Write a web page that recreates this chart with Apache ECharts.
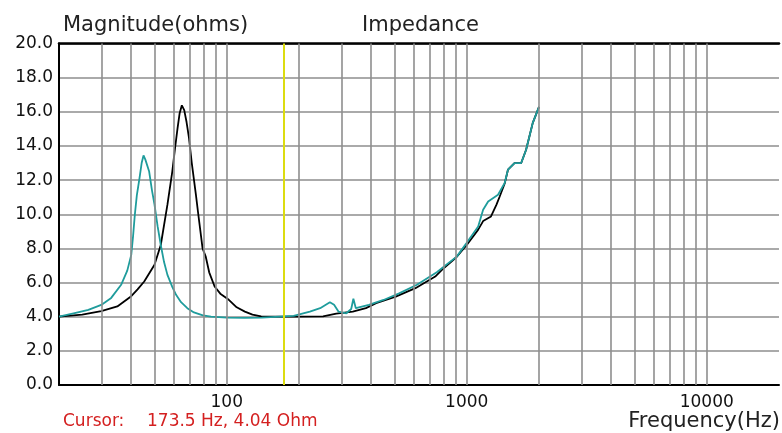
<!DOCTYPE html>
<html><head><meta charset="utf-8">
<script src="https://cdn.jsdelivr.net/npm/echarts@6/dist/echarts.min.js"></script>
<style>html,body{margin:0;padding:0;background:#fff}#c{width:782px;height:433px}</style>
</head><body><div id="c"></div>
<script>
// ---- data ----
const blackFreq = [20,25,30,35,40,42.5,45.3,50,53.1,56.6,59.3,60.8,62.4,63.6,65,66.5,68,69.6,71.5,74.4,76.1,79.3,81.8,84.5,89,94,102,110,119,128,139,160,200,252,286,335,380,419,506,611,739,788,900,1000,1116,1170,1262,1330,1372,1439,1485,1581,1686,1767,1825,1884,2000];
const blackMag  = [4.0,4.12,4.32,4.6,5.2,5.6,6.06,7.04,8.2,10.56,12.5,13.8,15.06,15.9,16.38,16.1,15.4,14.47,13.0,11.14,10.0,8.0,7.5,6.6,5.77,5.35,4.99,4.55,4.3,4.12,4.02,4.0,4.0,4.02,4.18,4.3,4.5,4.79,5.18,5.67,6.35,6.74,7.45,8.2,9.1,9.6,9.87,10.56,11.04,11.8,12.61,13.0,13.0,13.78,14.57,15.35,16.29];
const cyanFreq  = [20,23,26.5,30,33,36.3,38.5,40,40.7,41.4,42.2,43.3,44.2,45,45.8,47.5,48.8,50,51.5,53.1,54.8,56.6,59.3,61.5,64.5,68.5,73,79.5,86,100,119,121,140,173.5,190,222,245,269,280,292,315,330,337,345,391,450,520,620,750,908,998,1116,1170,1228,1350,1439,1485,1581,1686,1767,1825,1884,2000];
const cyanMag   = [4.0,4.2,4.4,4.69,5.1,5.87,6.7,7.62,8.7,9.97,11.1,12.12,13.0,13.45,13.2,12.5,11.4,10.56,9.3,8.2,7.2,6.45,5.75,5.28,4.85,4.5,4.25,4.08,4.0,3.95,3.93,3.87,3.95,4.02,4.05,4.3,4.5,4.85,4.7,4.3,4.2,4.45,5.05,4.5,4.69,4.98,5.35,5.87,6.6,7.52,8.31,9.28,10.26,10.75,11.14,11.83,12.61,13.0,13.0,13.78,14.57,15.35,16.29];
const gridFreqs = [30,40,50,60,70,80,90,100,200,300,400,500,600,700,800,900,1000,2000,3000,4000,5000,6000,7000,8000,9000,10000];
const xTickLabels = ['100','1000','10000'];
const yTickLabels = ['0.0','2.0','4.0','6.0','8.0','10.0','12.0','14.0','16.0','18.0','20.0'];
const cursorFreq = 173.5;
const cursorText = '173.5 Hz, 4.04 Ohm';

const FONT = 'DejaVu Sans';
const gridStyle = {color:'#8e8e8e', width:1.6, type:'solid'};
const zip = (a,b) => a.map((v,i)=>[v,b[i]]);

const chart = echarts.init(document.getElementById('c'), null, {renderer:'canvas'});
chart.setOption({
  animation:false,
  backgroundColor:'#fff',
  grid:{left:59, top:43.5, width:726, height:341.5},
  xAxis:[{
    type:'log', logBase:10, min:20, max:20000,
    axisLine:{show:true, lineStyle:{color:'#000', width:2}},
    axisTick:{show:false}, splitLine:{show:false},
    axisLabel:{color:'#111', fontFamily:FONT, fontSize:17, margin:9,
      formatter:v=>{const s=String(Math.round(v)); return xTickLabels.includes(s)?s:'';}}
  },{
    type:'log', logBase:10, min:20, max:20000, position:'top',
    axisLine:{show:true, lineStyle:{color:'#000', width:2.5}},
    axisTick:{show:false}, axisLabel:{show:false}, splitLine:{show:false}
  }],
  yAxis:{
    type:'value', min:0, max:20, interval:2,
    axisLine:{show:true, lineStyle:{color:'#000', width:2}},
    axisTick:{show:false},
    splitLine:{show:true, lineStyle:gridStyle},
    axisLabel:{color:'#111', fontFamily:FONT, fontSize:17, margin:6,
      formatter:(v)=>yTickLabels[Math.round(v/2)]}
  },
  series:[
    {type:'line', data:[], z:1, silent:true,
     markLine:{silent:true, symbol:'none', label:{show:false}, animation:false,
       lineStyle:gridStyle,
       data: gridFreqs.map(f=>({xAxis:f})).concat([{xAxis:cursorFreq, lineStyle:{color:'#dcdc10', width:2, type:'solid'}}])}},
    {type:'line', data:zip(blackFreq, blackMag), z:3, showSymbol:false, symbol:'none',
     lineStyle:{color:'#000', width:1.8}},
    {type:'line', data:zip(cyanFreq, cyanMag), z:4, showSymbol:false, symbol:'none',
     lineStyle:{color:'#1f9c9c', width:1.8}}
  ],
  graphic:[
    {type:'text', x:63, y:25.5, style:{text:'Magnitude(ohms)', fontFamily:FONT, fontSize:21, fill:'#222', verticalAlign:'middle'}},
    {type:'text', x:362, y:25.5, style:{text:'Impedance', fontFamily:FONT, fontSize:21, fill:'#222', verticalAlign:'middle'}},
    {type:'text', x:780, y:421.5, style:{text:'Frequency(Hz)', fontFamily:FONT, fontSize:21, fill:'#222', align:'right', verticalAlign:'middle'}},
    {type:'text', x:63, y:422, style:{text:'Cursor:', fontFamily:FONT, fontSize:17, fill:'#d42020', verticalAlign:'middle'}},
    {type:'text', x:147, y:422, style:{text:cursorText, fontFamily:FONT, fontSize:17, fill:'#d42020', verticalAlign:'middle'}}
  ]
});
</script></body></html>
